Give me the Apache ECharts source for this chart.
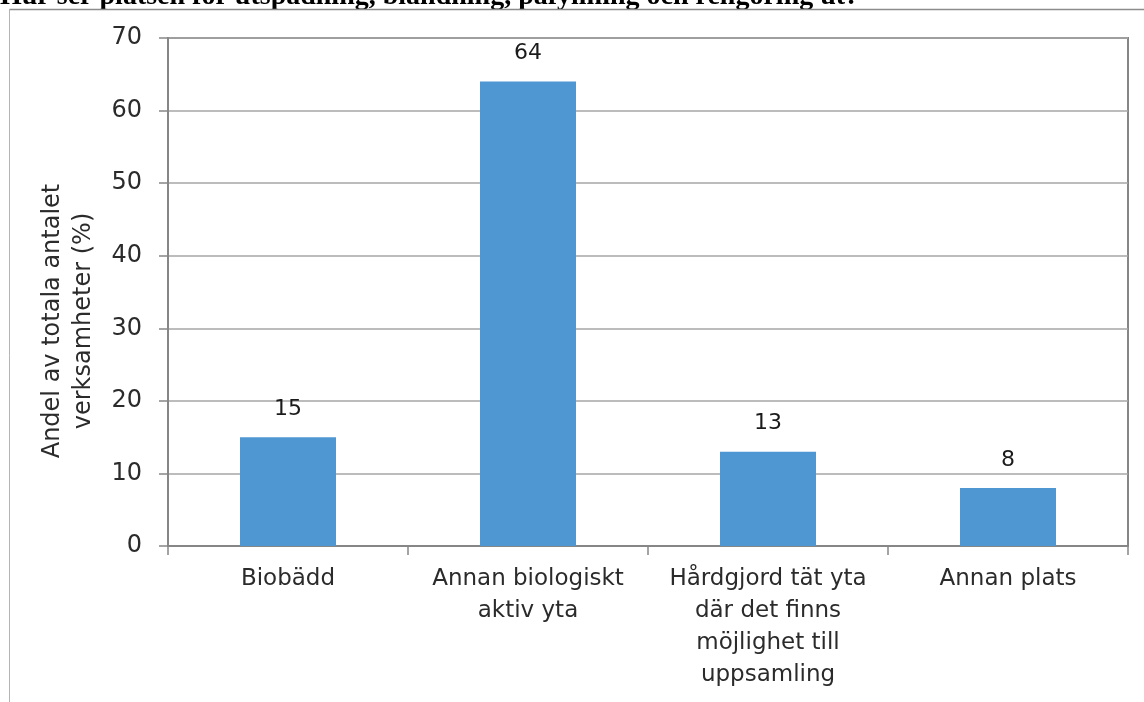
<!DOCTYPE html>
<html>
<head>
<meta charset="utf-8">
<title>Plats för utspädning, blandning, påfyllning och rengöring</title>
<script src="https://cdn.jsdelivr.net/npm/echarts@6/dist/echarts.min.js"></script>
<style>
  html, body { margin: 0; padding: 0; background: #ffffff; }
  #chart { width: 1144px; height: 702px; }
</style>
</head>
<body>
<div id="chart"></div>
<script>
// Category labels (line breaks as they wrap under the axis)
const categories = [
  'Biobädd',
  'Annan biologiskt\naktiv yta',
  'Hårdgjord tät yta\ndär det finns\nmöjlighet till\nuppsamling',
  'Annan plats'
];
// Share of all operations, percent
const shares = [15, 64, 13, 8];
// Value-axis range
const yMin = 0;
const yMax = 70;
const yStep = 10;

const heading = 'Hur ser platsen för utspädning, blandning, påfyllning och rengöring ut?';
const yTitle = 'Andel av totala antalet\nverksamheter (%)';

const axisGray = '#868686';
const gridGray = '#a6a6a6';
const textGray = '#2b2b2b';
const labelFont = 'DejaVu Sans';

const chart = echarts.init(document.getElementById('chart'), null, { renderer: 'canvas' });

chart.setOption({
  backgroundColor: '#ffffff',
  animation: false,
  grid: {
    left: 168,
    right: 16,
    top: 38,
    bottom: 156,
    show: true,
    borderColor: axisGray,
    borderWidth: 2,
    backgroundColor: 'transparent'
  },
  graphic: [
    // page heading, mostly cut off at the top edge
    {
      type: 'text',
      x: 0,
      y: 11,
      style: {
        text: heading,
        font: 'bold 28px "Liberation Serif", "DejaVu Serif", serif',
        fill: '#000000',
        verticalAlign: 'bottom',
        align: 'left'
      },
      z: 10,
      silent: true
    },
    // outer frame around the chart object
    {
      type: 'line',
      shape: { x1: 9.5, y1: 9.5, x2: 1144, y2: 9.5 },
      style: { stroke: '#8c8c8c', lineWidth: 1.5 },
      z: 11,
      silent: true
    },
    {
      type: 'line',
      shape: { x1: 9.5, y1: 9.5, x2: 9.5, y2: 702 },
      style: { stroke: '#b4b4b4', lineWidth: 1 },
      silent: true
    },
    // value-axis title
    {
      type: 'text',
      x: 68,
      y: 321,
      rotation: Math.PI / 2,
      style: {
        text: yTitle,
        font: '24px "' + labelFont + '", sans-serif',
        fill: textGray,
        align: 'center',
        verticalAlign: 'middle',
        lineHeight: 31
      },
      silent: true
    }
  ],
  xAxis: {
    type: 'category',
    data: categories,
    boundaryGap: true,
    axisLine: { show: true, lineStyle: { color: axisGray, width: 2 } },
    axisTick: { show: true, length: 9, interval: 0, lineStyle: { color: axisGray, width: 1.5 } },
    axisLabel: {
      interval: 0,
      margin: 17,
      fontFamily: labelFont,
      fontSize: 23,
      lineHeight: 32,
      color: textGray,
      align: 'center'
    },
    splitLine: { show: false }
  },
  yAxis: {
    type: 'value',
    min: yMin,
    max: yMax,
    interval: yStep,
    axisLine: { show: true, lineStyle: { color: axisGray, width: 2 } },
    axisTick: { show: true, length: 9, lineStyle: { color: axisGray, width: 1.5 } },
    axisLabel: {
      margin: 26,
      fontFamily: labelFont,
      fontSize: 24,
      color: textGray
    },
    splitLine: { show: true, lineStyle: { color: gridGray, width: 1.5 } }
  },
  series: [
    {
      type: 'bar',
      data: shares,
      barWidth: '40%',
      itemStyle: { color: '#4f97d2' },
      label: {
        show: true,
        position: 'top',
        distance: 17,
        fontFamily: labelFont,
        fontSize: 22,
        color: '#1a1a1a'
      }
    }
  ]
});
</script>
</body>
</html>
